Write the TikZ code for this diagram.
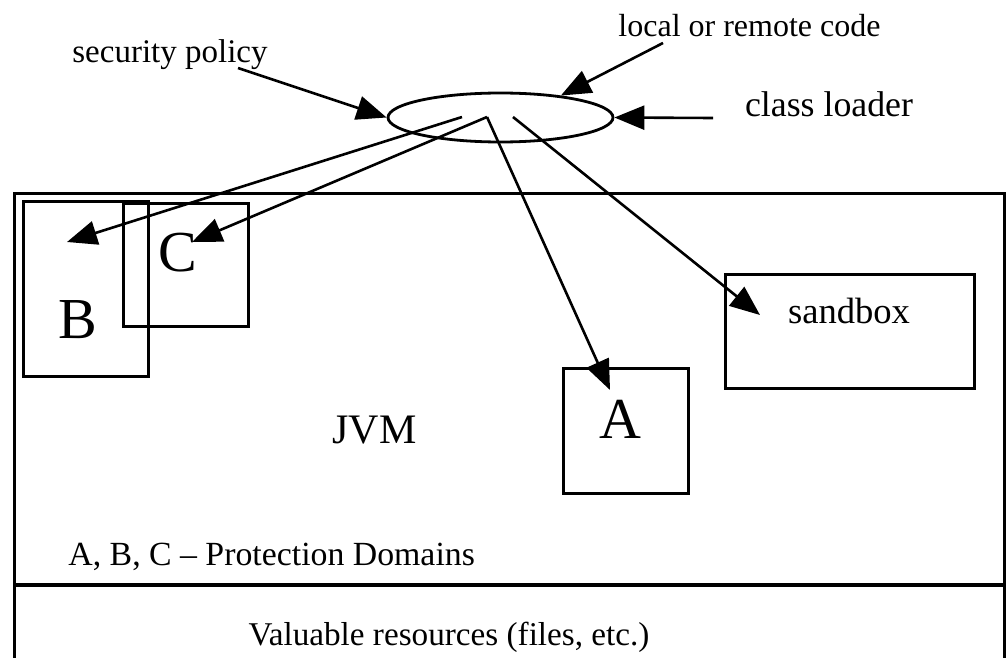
\documentclass[tikz,border=0pt]{standalone}
\usepackage{fontspec}
\setmainfont{Liberation Serif}
\usetikzlibrary{shapes.geometric,arrows.meta}

\begin{document}
\begin{tikzpicture}[x=0.5pt,y=-0.5pt,
        box/.style={draw, line width=1.4pt, inner sep=0pt, anchor=north west},
        lbl/.style={inner sep=0pt, anchor=base, font=\fontsize{#1}{#1}\selectfont},
        arr/.style={line width=1.3pt, -{Triangle[length=15pt,width=12pt]}}]
        \useasboundingbox (0,0) rectangle (1006,658);
        % JVM frame and resources strip
        \draw [line width=1.5pt] (14,658) -- (14,193) -- (1004,193) -- (1004,658);
        \draw [line width=1.8pt] (14,585) -- (1004,585);
        % class loader
        \node [draw, ellipse, line width=1.4pt, inner sep=0pt, minimum width=112.5pt, minimum height=24.5pt] (loader) at (500.5,117.5) {};
        % protection domains
        \node [box, minimum width=62.5pt, minimum height=87.5pt] (boxB) at (22,200) {};
        \node [box, minimum width=62.5pt, minimum height=61.5pt] (boxC) at (122,202) {};
        \node [box, minimum width=62.5pt, minimum height=62.5pt] (boxA) at (562,367) {};
        \node [box, minimum width=124.5pt, minimum height=57pt] (sandbox) at (724,273) {};
        % labels
        \node [lbl=16.5] (secpol) at (170,63) {security policy};
        \node [lbl=16] (code) at (749.5,37) {local or remote code};
        \node [lbl=17.9] (cl) at (829,117) {class loader};
        \node [lbl=18.3] (sbtext) at (849,323) {sandbox};
        \node [lbl=21] (jvm) at (374.5,443) {JVM};
        \node [lbl=29] (la) at (620,438) {A};
        \node [lbl=29] (lb) at (78,338) {B};
        \node [lbl=29] (lc) at (178,271) {C};
        \node [lbl=16.9, anchor=base west] (pd) at (68,565) {A, B, C -- Protection Domains};
        \node [lbl=16.6] (res) at (449,645) {Valuable resources (files, etc.)};
        % arrow ends
        \coordinate (secT) at (238,68);
        \coordinate (codeT) at (663,43);
        \coordinate (clT) at (713,118);
        \coordinate (oB) at (462,117);
        \coordinate (oCA) at (487,117);
        \coordinate (oS) at (513,117);
        \coordinate (tB) at (67,242);
        \coordinate (tC) at (192,242);
        \coordinate (tA) at (610,390);
        \coordinate (tS) at (760,315);
        \draw [arr] (secT) -- (loader.west);
        \draw [arr] (codeT) -- (loader.20);
        \draw [arr] (clT) -- (loader.east);
        \draw [arr] (oB) -- (tB);
        \draw [arr] (oCA) -- (tC);
        \draw [arr] (oCA) -- (tA);
        \draw [arr] (oS) -- (tS);
\end{tikzpicture}
\end{document}
